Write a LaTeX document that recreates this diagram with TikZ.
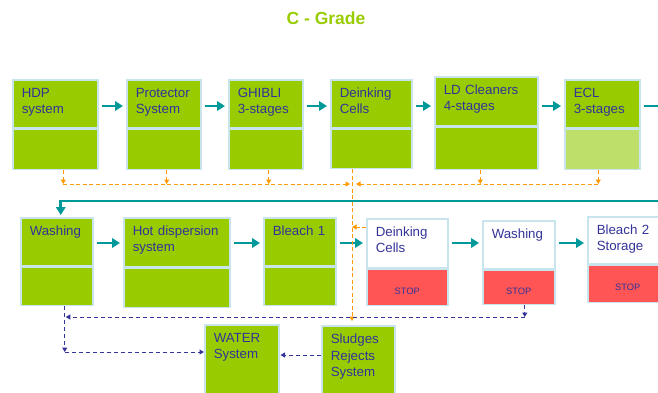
\documentclass[tikz,border=0pt]{standalone}
\usepackage{fontspec}
\setmainfont{Liberation Sans}
\usetikzlibrary{arrows.meta}
\definecolor{leaf}{HTML}{99CC00}
\definecolor{paleleaf}{HTML}{BEDF6A}
\definecolor{rim}{HTML}{C8E4EC}
\definecolor{ink}{HTML}{333399}
\definecolor{flowteal}{HTML}{009999}
\definecolor{drainorange}{HTML}{FF9900}
\definecolor{alarm}{HTML}{FF5555}
\tikzset{
  stagetop/.style={draw=rim, line width=1.5pt, fill=leaf, anchor=north west, inner xsep=9pt, inner ysep=0pt, text height=18pt, align=left, text=ink, font=\fontsize{13.3}{16}\selectfont},
  stagebot/.style={draw=rim, line width=1.5pt, fill=leaf, anchor=north west, inner sep=0pt},
  stopbox/.style={stagebot, fill=alarm, text=ink, text height=14pt, font=\fontsize{9.3}{11}\selectfont},
  flow/.style={draw=flowteal, line width=2.8pt, >={Triangle[length=8pt,width=9.5pt]}, shorten <=3pt, shorten >=3pt},
  drain/.style={draw=drainorange, line width=1pt, dash pattern=on 4pt off 2.5pt, >={Triangle[length=4.5pt,width=5pt]}},
  waste/.style={draw=ink, line width=1pt, dash pattern=on 4pt off 3pt, >={Triangle[length=4.5pt,width=5pt]}}
}
\begin{document}
\begin{tikzpicture}[x=1pt,y=-1pt]
\useasboundingbox (0,0) rectangle (658,392);
\clip (0,0) rectangle (658,392);
\node[font=\bfseries\fontsize{17.5}{20}\selectfont, text=leaf] (title) at (326,18) {C - Grade};
% first line
\node[stagetop, text width=67pt, text depth=30pt] (hdp) at (12,79) {HDP\\system};
\node[stagebot, minimum width=85pt, minimum height=40pt] (hdpb) at (hdp.south west) {};
\node[stagetop, text width=56pt, text depth=30pt] (prot) at (126,79) {Protector\\System};
\node[stagebot, minimum width=74pt, minimum height=40pt] (protb) at (prot.south west) {};
\node[stagetop, text width=56pt, text depth=30pt] (ghib) at (228,79) {GHIBLI\\3-stages};
\node[stagebot, minimum width=74pt, minimum height=40pt] (ghibb) at (ghib.south west) {};
\node[stagetop, text width=63pt, text depth=30pt] (dink) at (330,79) {Deinking\\Cells};
\node[stagebot, minimum width=81pt, minimum height=39pt] (dinkb) at (dink.south west) {};
\node[stagetop, text width=85pt, text depth=31pt] (ldc) at (434,76) {LD Cleaners\\4-stages};
\node[stagebot, minimum width=103pt, minimum height=42pt] (ldcb) at (ldc.south west) {};
\node[stagetop, text width=57pt, text depth=30pt] (ecl) at (564,79) {ECL\\3-stages};
\node[stagebot, fill=paleleaf, minimum width=75pt, minimum height=40pt] (eclb) at (ecl.south west) {};
% second line
\node[stagetop, text width=54pt, text depth=30pt] (wash) at (20,217) {Washing};
\node[stagebot, minimum width=72pt, minimum height=38pt] (washb) at (wash.south west) {};
\node[stagetop, text width=88pt, text depth=31pt] (hotd) at (123,217) {Hot dispersion\\system};
\node[stagebot, minimum width=106pt, minimum height=39pt] (hotdb) at (hotd.south west) {};
\node[stagetop, text width=54pt, text depth=30pt] (blone) at (263,217) {Bleach 1};
\node[stagebot, minimum width=72pt, minimum height=38pt] (bloneb) at (blone.south west) {};
\node[stagetop, fill=white, text width=63pt, text depth=31pt] (dnk) at (366,218) {Deinking\\Cells};
\node[stopbox, minimum width=81pt, minimum height=36pt] (dnkb) at (dnk.south west) {STOP};
\node[stagetop, fill=white, text width=54pt, text depth=30pt] (wsh) at (482,220) {Washing};
\node[stopbox, minimum width=72pt, minimum height=34pt] (wshb) at (wsh.south west) {STOP};
\node[stagetop, fill=white, text width=62pt, text depth=29pt] (bltwo) at (587,216) {Bleach 2\\Storage};
\node[stopbox, minimum width=80pt, minimum height=37pt] (bltwob) at (bltwo.south west) {STOP};
% third line
\node[stagetop, text width=56pt, text depth=62pt] (water) at (204,324) {WATER\\System};
\node[stagetop, text width=55pt, text depth=62pt, font=\fontsize{13.3}{16.5}\selectfont] (sludge) at (321,325) {Sludges\\Rejects\\System};
% connectors
\coordinate (rowa) at (0,106);
\coordinate (rowb) at (0,243);
\coordinate (loopa) at (680,106);
\coordinate (loopb) at (680,201);
\coordinate (hub) at (352,184);
\coordinate (tiea) at (0,317);
\coordinate (tieb) at (0,352);
\coordinate (tiec) at (0,355);
\coordinate (hdpout) at ([xshift=8pt]hdpb.south);
\coordinate (protout) at ([xshift=3pt]protb.south);
\coordinate (ghibout) at ([xshift=3pt]ghibb.south);
\coordinate (ldcout) at ([xshift=-6pt]ldcb.south);
\coordinate (eclout) at ([xshift=-4pt]eclb.south);
\coordinate (dnkin) at ([yshift=-9pt]dnk.north west);
\coordinate (washout) at ([xshift=8pt]washb.south);
\coordinate (wshout) at ([xshift=6pt]wshb.south);
\draw[flow,->] (hdp.east |- rowa) -- (prot.west |- rowa);
\draw[flow,->] (prot.east |- rowa) -- (ghib.west |- rowa);
\draw[flow,->] (ghib.east |- rowa) -- (dink.west |- rowa);
\draw[flow,->] (dink.east |- rowa) -- (ldc.west |- rowa);
\draw[flow,->] (ldc.east |- rowa) -- (ecl.west |- rowa);
\draw[flow,->, shorten >=2pt] (ecl.east |- rowa) -- (loopa) -- (loopb) -| ([xshift=4pt]wash.north);
\draw[flow,->] (wash.east |- rowb) -- (hotd.west |- rowb);
\draw[flow,->] (hotd.east |- rowb) -- (blone.west |- rowb);
\draw[flow,->] (blone.east |- rowb) -- (dnk.west |- rowb);
\draw[flow,->] (dnk.east |- rowb) -- (wsh.west |- rowb);
\draw[flow,->] (wsh.east |- rowb) -- (bltwo.west |- rowb);
\draw[drain,->] (hdpout) -- (hdpout |- hub);
\draw[drain,->] (protout) -- (protout |- hub);
\draw[drain,->] (ghibout) -- (ghibout |- hub);
\draw[drain,->] (ldcout) -- (ldcout |- hub);
\draw[drain,->] (eclout) -- (eclout |- hub);
\draw[drain,->, shorten >=2pt] (hdpout |- hub) -- (hub);
\draw[drain,->, shorten >=4pt] (eclout |- hub) -- (hub);
\draw[drain,->, shorten >=4pt] (dinkb.south -| hub) -- (hub |- sludge.north);
\draw[drain,->] (dnkin) -- (dnkin -| hub);
\draw[waste,->] (wshout) -- (wshout |- tiea);
\draw[waste,->, shorten >=1pt] (wshout |- tiea) -- (washout |- tiea);
\draw[waste,->] (washout) -- (washout |- tieb);
\draw[waste,->] (washout |- tieb) -- (water.west |- tieb);
\draw[waste,->, shorten >=1pt] (sludge.west |- tiec) -- (water.east |- tiec);
\end{tikzpicture}
\end{document}
